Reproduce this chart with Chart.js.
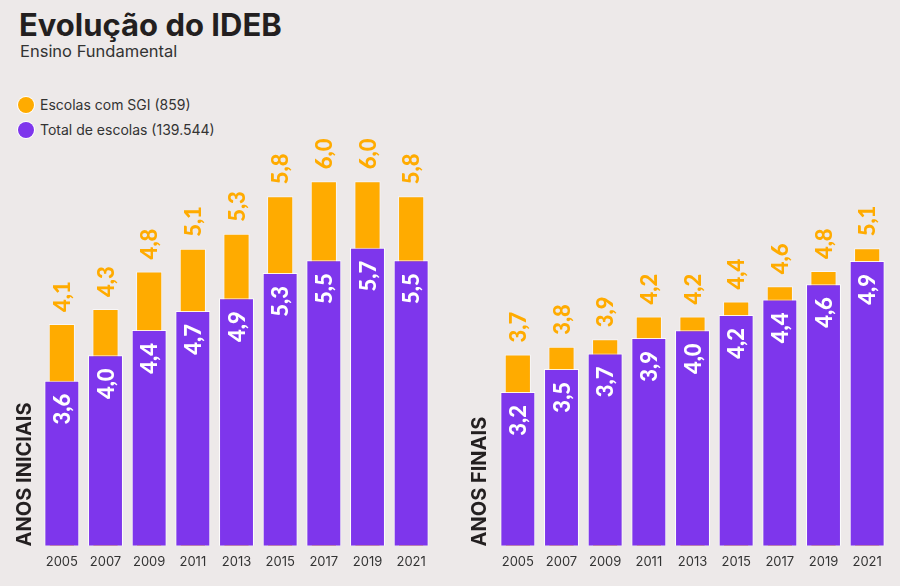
<!DOCTYPE html>
<html lang="pt-BR">
<head>
<meta charset="utf-8">
<title>Evolução do IDEB</title>
<script src="https://cdn.jsdelivr.net/npm/chart.js@4/dist/chart.umd.min.js"></script>
<style>
  html, body { margin: 0; padding: 0; }
  body { width: 900px; height: 586px; background: #ede9e9; position: relative; overflow: hidden; font-family: Inter, 'Open Sans', sans-serif; }
  #title { position: absolute; left: 19px; top: 6px; font-size: 31px; font-weight: 700; color: #231f20; }
  #subtitle { position: absolute; left: 20px; top: 41px; font-size: 16.5px; color: #333; }
  .legend { position: absolute; left: 18px; font-size: 14px; color: #333; display: flex; align-items: center; }
  .legend span { display: inline-block; width: 16px; height: 16px; border-radius: 50%; margin-right: 6px; box-shadow: 0 0 0 1px #fff; }
  canvas { position: absolute; top: 0; }
</style>
</head>
<body>
<div id="title">Evolução do IDEB</div>
<div id="subtitle">Ensino Fundamental</div>
<div class="legend" style="top:96px"><span style="background:#ffab00"></span>Escolas com SGI (859)</div>
<div class="legend" style="top:121px"><span style="background:#7e36ec"></span>Total de escolas (139.544)</div>
<canvas id="iniciais_chart" width="450" height="586" style="left:0"></canvas>
<canvas id="finais_chart" width="450" height="586" style="left:450px"></canvas>

<script>
'use strict';
//** Data */

let years = ['2005', '2007', '2009', '2011', '2013', '2015', '2017', '2019', '2021'];

let iniciaisSGI = [4.1, 4.3, 4.8, 5.1, 5.3, 5.8, 6.0, 6.0, 5.8];
let iniciaisTotal = [3.6, 4.0, 4.4, 4.7, 4.9, 5.3, 5.5, 5.7, 5.5];

let finaisSGI = [3.7, 3.8, 3.9, 4.2, 4.2, 4.4, 4.6, 4.8, 5.1];
let finaisTotal = [3.2, 3.5, 3.7, 3.9, 4.0, 4.2, 4.4, 4.6, 4.9];

let orange = '#ffab00';
let purple = '#7e36ec';

//** Helper: comma decimal */

function fmt(v){
  return v.toFixed(1).replace('.', ',');
}

//** Plugin: rotated value labels + side title */

let valueLabels = {
  id: 'valueLabels',
  afterDatasetsDraw(chart){
    let ctx = chart.ctx;
    ctx.save();
    ctx.font = '900 22px Lato, sans-serif';
    ctx.textBaseline = 'middle';
    chart.data.datasets.forEach((ds, i) => {
      let meta = chart.getDatasetMeta(i);
      meta.data.forEach((bar, j) => {
        ctx.save();
        if (ds.label.startsWith('Escolas')){
          ctx.translate(bar.x + 1, bar.y - 12);
          ctx.rotate(-Math.PI / 2);
          ctx.textAlign = 'left';
          ctx.fillStyle = orange;
        } else {
          ctx.translate(bar.x + 1, bar.y + 13);
          ctx.rotate(-Math.PI / 2);
          ctx.textAlign = 'right';
          ctx.fillStyle = '#ffffff';
        }
        ctx.fillText(fmt(ds.data[j]), 0, 0);
        ctx.restore();
      });
    });

    let side = chart.options.plugins.valueLabels;
    ctx.translate(side.x, chart.chartArea.bottom + 1);
    ctx.rotate(-Math.PI / 2);
    ctx.font = '700 20px Inter, sans-serif';
    ctx.fillStyle = '#231f20';
    ctx.textAlign = 'left';
    ctx.fillText(side.text, 0, 0);
    ctx.restore();
  }
};

//** Chart builder */

function makepanel(canvasid, sgi, total, pad, scaleO, scaleP, sidetext, sidex){
  let chartObj = {
    type: 'bar',
    data: {
      labels: years,
      datasets: [
        {
          label: 'Total de escolas (139.544)',
          data: total,
          yAxisID: 'yP',
          backgroundColor: purple,
          borderColor: 'rgba(255,255,255,0.85)',
          borderWidth: 1,
          borderSkipped: false,
          grouped: false,
          categoryPercentage: 1,
          barPercentage: 0.8,
          order: 1
        },
        {
          label: 'Escolas com SGI (859)',
          data: sgi,
          yAxisID: 'yO',
          backgroundColor: orange,
          borderColor: 'rgba(255,255,255,0.6)',
          borderWidth: 1,
          borderSkipped: 'bottom',
          grouped: false,
          categoryPercentage: 1,
          barPercentage: 0.6,
          order: 2
        }
      ]
    },
    options: {
      responsive: false,
      animation: false,
      layout: { padding: pad },
      plugins: {
        legend: { display: false },
        tooltip: { enabled: false },
        valueLabels: { text: sidetext, x: sidex }
      },
      scales: {
        x: {
          grid: { display: false, drawTicks: false },
          border: { display: false },
          ticks: { color: '#333', padding: 9, font: { family: 'Inter', size: 13 } }
        },
        yO: { display: false, min: scaleO[0], max: scaleO[1] },
        yP: { display: false, min: scaleP[0], max: scaleP[1] }
      }
    },
    plugins: [valueLabels]
  };
  return new Chart(document.getElementById(canvasid), chartObj);
}

//** Instantiations */

makepanel('iniciais_chart', iniciaisSGI, iniciaisTotal,
  { top: 140, left: 40, right: 17, bottom: 7 },
  [1.15, 6.55], [1.0, 7.4], 'ANOS INICIAIS', 25);

makepanel('finais_chart', finaisSGI, finaisTotal,
  { top: 140, left: 46, right: 11, bottom: 7 },
  [1.18, 6.53], [1.21, 6.47], 'ANOS FINAIS', 30);
</script>
</body>
</html>
